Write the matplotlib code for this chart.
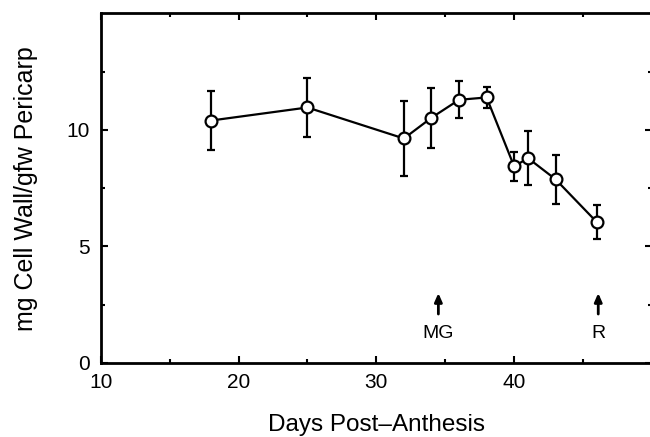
import matplotlib
matplotlib.use("Agg")
import matplotlib.pyplot as plt
from matplotlib.ticker import MultipleLocator, FixedLocator

days = [18, 25, 32, 34, 36, 38, 40, 41, 43, 46]
cell_wall = [10.4, 10.96, 9.63, 10.52, 11.29, 11.39, 8.43, 8.79, 7.88, 6.04]
err = [1.27, 1.26, 1.6, 1.29, 0.79, 0.45, 0.62, 1.17, 1.04, 0.72]
stage_labels = ["MG", "R"]
stage_days = [34.5, 46.1]
x_ticks = [10, 20, 30, 40]
y_ticks = [0, 5, 10]

plt.rcParams['font.family'] = ['Liberation Sans', 'DejaVu Sans']

fig = plt.figure(figsize=(6.5, 4.37), dpi=100)
ax = fig.add_axes([100.7/650, 1-363/437, (652-100.7)/650, (363-13.3)/437])

ax.errorbar(days, cell_wall, yerr=err, color='black', lw=1.6, elinewidth=1.6,
            capsize=3, capthick=1.6, marker='o', markersize=8.5,
            markerfacecolor='white', markeredgecolor='black', markeredgewidth=1.6,
            zorder=3)

for lab, d in zip(stage_labels, stage_days):
    ax.annotate('', xy=(d, 3.0), xytext=(d, 2.1),
                arrowprops=dict(arrowstyle='-|>,head_length=0.5,head_width=0.22',
                                color='black', lw=2.0, shrinkA=0, shrinkB=0))
    ax.text(d, 1.25, lab, ha='center', va='center', fontsize=14)

ax.set_xlim(10, 50)
ax.set_ylim(0, 15)
ax.set_xticks(x_ticks)
ax.xaxis.set_minor_locator(MultipleLocator(5))
ax.set_yticks(y_ticks)
ax.yaxis.set_minor_locator(FixedLocator([2.5, 7.5, 12.5]))
ax.tick_params(which='both', direction='in', top=True, right=True,
               width=1.5, labelsize=15)
ax.tick_params(axis='y', pad=8)
ax.tick_params(axis='x', pad=7)
ax.tick_params(which='major', length=5)
ax.tick_params(which='minor', length=3)
for s in ax.spines.values():
    s.set_linewidth(2)

ax.set_xlabel('Days Post\u2013Anthesis', fontsize=17.5, labelpad=16)
ax.set_ylabel('mg Cell Wall/gfw Pericarp', fontsize=18, labelpad=20)

fig.savefig('out.png', dpi=100)
